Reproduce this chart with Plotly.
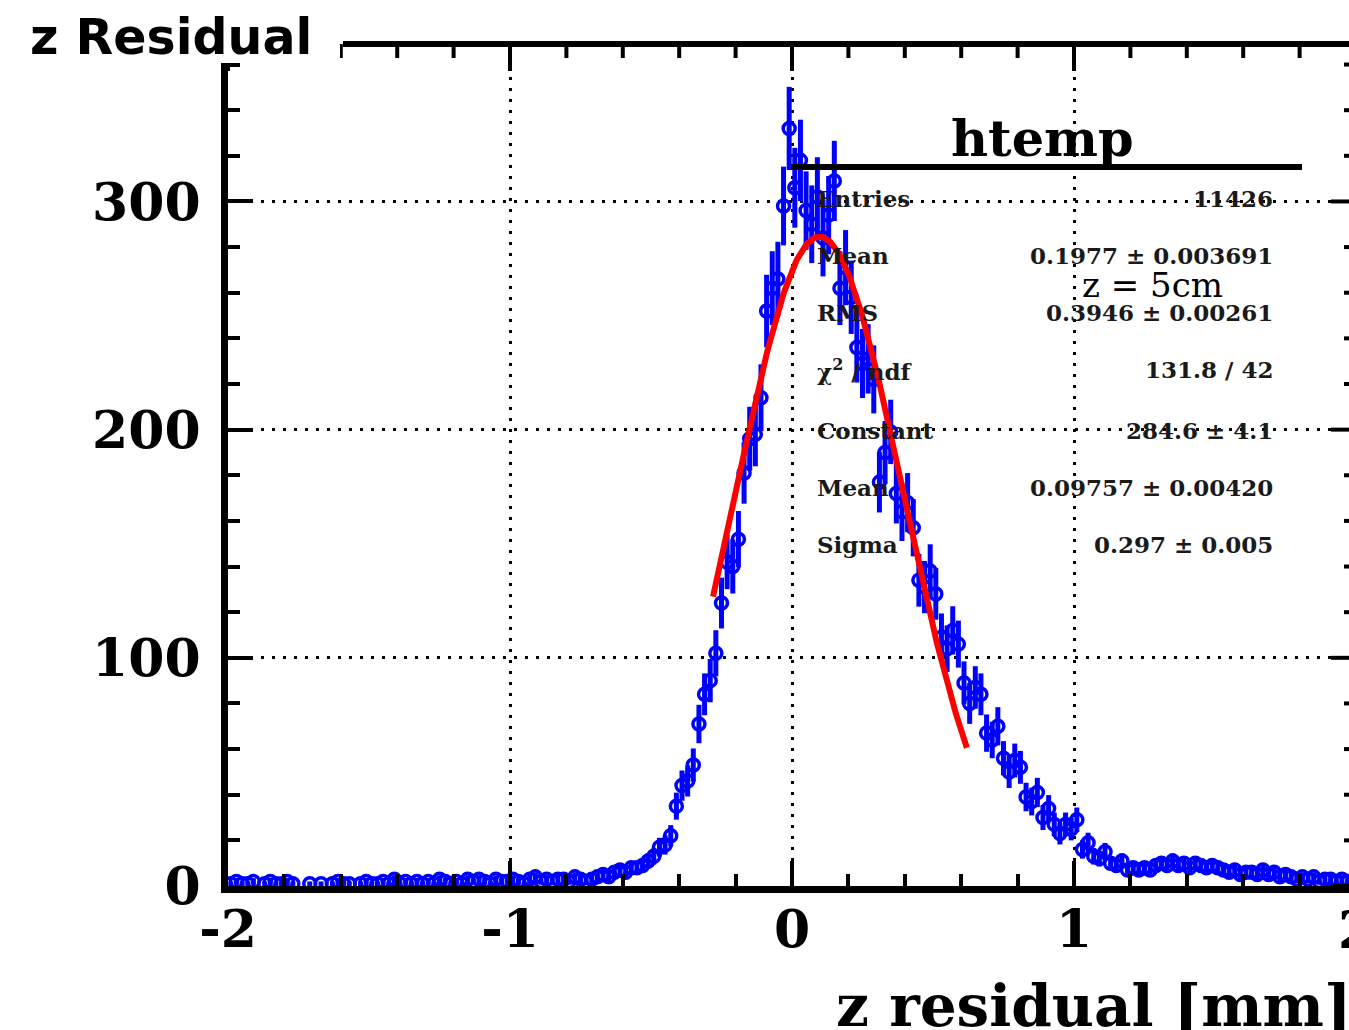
import numpy as np
import plotly.graph_objects as go

# ---- histogram of z residual [mm] : 200 bins on [-2, 2] ----
X_MIN, X_MAX, N_BINS = -2.0, 2.0, 200

# bin contents, bins centred at -1.99 ... -0.71
counts_left_tail = [
    1, 2, 1, 1, 2, 0, 1, 2, 1, 1,
    2, 1, 0, 0, 1, 0, 1, 0, 1, 2,
    1, 1, 0, 1, 2, 1, 1, 2, 1, 3,
    1, 2, 1, 2, 1, 2, 1, 3, 2, 1,
    2, 1, 3, 2, 3, 2, 1, 3, 2, 2,
    3, 2, 1, 3, 4, 2, 3, 2, 3, 3,
    2, 4, 3, 2, 3,
]
# bin contents, bins centred at -0.69 ... 1.99
counts_core = [
    4, 5, 4, 6, 7, 6, 8, 8, 9, 11,
    13, 17, 18, 22, 35, 44, 46, 53, 71, 84,
    90, 102, 124, 142, 140, 152, 181, 196, 198, 214,
    252, 262, 266, 298, 332,
    306, 318, 296, 290, 302, 284, 294, 309, 262, 271,
    258, 236, 229, 231, 222, 177, 190, 199, 172, 164,
    168, 157, 134, 131, 138, 128, 109, 104, 112, 106,
    89, 80, 87, 84, 67, 64, 70, 56, 50, 55,
    52, 39, 37, 41, 30, 34, 27, 23, 27, 25,
    29, 16, 19, 13, 12, 15, 10, 9, 11, 7,
    8, 7, 8, 7, 9, 10, 9, 11, 9, 10,
    8, 10, 9, 8, 9, 8, 7, 6, 7, 5,
    6, 6, 5, 7, 5, 6, 4, 5, 4, 3,
    4, 3, 4, 2, 3, 3, 2, 3, 2, 2,
]

# Gaussian fit result
fit_constant = 284.6
fit_mean = 0.09757
fit_sigma = 0.297
fit_lo, fit_hi = -0.28, 0.62

# statistics panel
stats_title = "htemp"
stats_labels = ["Entries", "Mean", "RMS", "χ<sup>2</sup> / ndf", "Constant", "Mean", "Sigma"]
stats_values = ["11426", "0.1977 ± 0.003691", "0.3946 ± 0.00261", "131.8 / 42",
                "284.6 ± 4.1", "0.09757 ± 0.00420", "0.297 ± 0.005"]
note_text = "z = 5cm"

x_tick_vals = [-2, -1, 0, 1]
x_tick_text = ["-2", "-1", "0", "1"]
y_tick_vals = [0, 100, 200, 300]
y_tick_text = ["0", "100", "200", "300"]

# ---- page geometry (pixels) ----
W, H = 1349, 1030
PL, PT, PB = 228, 44, 886          # plot area left / top / bottom
PW, PH = W - PL, PB - PT
PX_PER_UNIT = 282.0
X_RIGHT = X_MIN + PW / PX_PER_UNIT
Y_TOP = 369.0


def fx(px):
    return (px - PL) / PW


def fy(py):
    return (PB - py) / PH


edges = np.linspace(X_MIN, X_MAX, N_BINS + 1)
centers = 0.5 * (edges[:-1] + edges[1:])
counts = np.array(counts_left_tail + counts_core, dtype=float)
filled = counts > 0
xs = centers[filled]
ys = counts[filled]
errs = np.sqrt(ys)

BLUE = "#0000ff"
SERIF = "DejaVu Serif"

fig = go.Figure()
fig.add_trace(go.Scatter(
    x=xs, y=ys, mode="markers", cliponaxis=False, showlegend=False,
    marker=dict(symbol="circle-open", size=12, color=BLUE, line=dict(width=3.5, color=BLUE)),
    error_y=dict(type="data", array=errs, visible=True, color=BLUE, thickness=5, width=0),
))

xf = np.linspace(fit_lo, fit_hi, 200)
yf = fit_constant * np.exp(-0.5 * ((xf - fit_mean) / fit_sigma) ** 2)
fig.add_trace(go.Scatter(x=xf, y=yf, mode="lines", showlegend=False,
                         line=dict(color="#ff0000", width=6)))

shapes = []
# top frame line
shapes.append(dict(type="line", xref="paper", yref="paper", x0=fx(343), x1=fx(W + 10),
                   y0=fy(44), y1=fy(44), line=dict(color="black", width=6), layer="above"))
# top axis ticks (pointing down)
for i in range(-10, 11):
    xv = i * 0.2
    major = (i % 5 == 0)
    ln = 27 if major else 14
    if xv < X_MIN or xv > X_RIGHT:
        continue
    shapes.append(dict(type="line", xref="x", yref="paper", x0=xv, x1=xv,
                       y0=fy(44), y1=fy(44 + ln), line=dict(color="black", width=4), layer="above"))
# right axis ticks (pointing left, axis itself just beyond the page edge)
for j in range(0, 19):
    yv = j * 20
    major = (j % 5 == 0)
    ln = 25 if major else 12
    shapes.append(dict(type="line", xref="x", yref="y", x0=X_MAX - ln / PX_PER_UNIT, x1=X_MAX,
                       y0=yv, y1=yv, line=dict(color="black", width=4), layer="above"))
# statistics panel separator
shapes.append(dict(type="line", xref="paper", yref="paper", x0=fx(791), x1=fx(1302),
                   y0=fy(167), y1=fy(167), line=dict(color="black", width=6), layer="above"))
# title pad
shapes.append(dict(type="rect", xref="paper", yref="paper", x0=fx(-5), x1=fx(340),
                   y0=fy(63), y1=fy(-5), fillcolor="white", line=dict(width=0), layer="above"))

annotations = []
annotations.append(dict(text="<b>z Residual</b>", xref="paper", yref="paper",
                        x=fx(28), y=fy(37), xanchor="left", yanchor="middle", showarrow=False,
                        font=dict(family="DejaVu Sans", size=49, color="black")))
annotations.append(dict(text="<b>z residual [mm]</b>", xref="paper", yref="paper",
                        x=fx(1353), y=fy(1006), xanchor="right", yanchor="middle", showarrow=False,
                        font=dict(family=SERIF, size=58, color="black")))
annotations.append(dict(text="<b>2</b>", xref="paper", yref="paper",
                        x=fx(PL + 4 * PX_PER_UNIT), y=fy(929), xanchor="center", yanchor="middle",
                        showarrow=False, font=dict(family=SERIF, size=52, color="black")))
annotations.append(dict(text="<b>" + stats_title + "</b>", xref="paper", yref="paper",
                        x=fx(1042), y=fy(138), xanchor="center", yanchor="middle", showarrow=False,
                        font=dict(family=SERIF, size=51, color="black")))
row_y = [198, 256, 313, 370, 430, 487, 544]
for lab, val, ry in zip(stats_labels, stats_values, row_y):
    annotations.append(dict(text="<b>" + lab + "</b>", xref="paper", yref="paper",
                            x=fx(815), y=fy(ry), xanchor="left", yanchor="middle", showarrow=False,
                            font=dict(family=SERIF, size=23, color="#1a1a1a")))
    annotations.append(dict(text="<b>" + val + "</b>", xref="paper", yref="paper",
                            x=fx(1275), y=fy(ry), xanchor="right", yanchor="middle", showarrow=False,
                            font=dict(family=SERIF, size=23, color="#1a1a1a")))
annotations.append(dict(text=note_text, xref="paper", yref="paper",
                        x=fx(1152), y=fy(285), xanchor="center", yanchor="middle", showarrow=False,
                        font=dict(family=SERIF, size=34, color="black")))

axis_common = dict(
    showline=True, linecolor="black", linewidth=7,
    ticks="inside", tickcolor="black", tickwidth=4, ticklen=25,
    showgrid=True, gridcolor="black", gridwidth=3, griddash="3px,8px",
    zeroline=False, layer="above traces",
    tickfont=dict(family=SERIF, size=52, color="black", weight="bold"),
)

fig.update_layout(
    width=W, height=H,
    margin=dict(l=PL, r=0, t=PT, b=H - PB, pad=0),
    paper_bgcolor="white", plot_bgcolor="white",
    showlegend=False,
    xaxis=dict(range=[X_MIN, X_RIGHT], tickmode="array", tickvals=x_tick_vals, ticktext=x_tick_text,
               minor=dict(tickmode="linear", tick0=0, dtick=0.2, ticks="inside", ticklen=12,
                          tickwidth=4, tickcolor="black", showgrid=False),
               ticklabelstandoff=-8, **axis_common),
    yaxis=dict(range=[0, Y_TOP], tickmode="array", tickvals=y_tick_vals, ticktext=y_tick_text,
               minor=dict(tickmode="linear", tick0=0, dtick=20, ticks="inside", ticklen=12,
                          tickwidth=4, tickcolor="black", showgrid=False),
               ticklabelstandoff=10, **axis_common),
    shapes=shapes,
    annotations=annotations,
)

fig.write_html("out.html")
